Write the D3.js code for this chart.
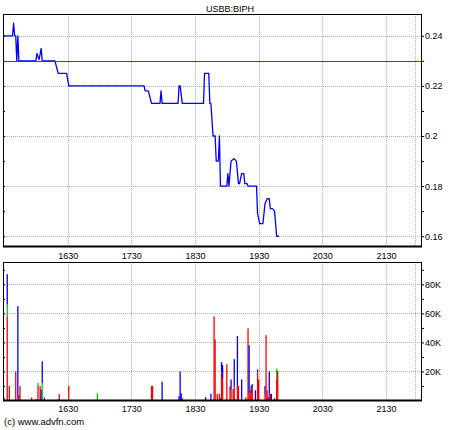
<!DOCTYPE html>
<html><head><meta charset="utf-8">
<script src="https://cdn.jsdelivr.net/npm/d3@7"></script>
<style>
html,body{margin:0;padding:0;background:#fff;}
svg{display:block;font-family:"Liberation Sans",Arial,sans-serif;}
</style></head><body>
<svg id="c" width="460" height="430"></svg>
<script>
// ---------- data ----------
const title = "USBB:BIPH";
const copyright = "(c) www.advfn.com";

const priceTimes = ["15:30","15:38","15:39","15:40","15:41","15:42","15:43","15:44","16:00","16:01","16:03","16:05","16:06",
  "16:18","16:21","16:29","16:31","17:42","17:43","17:46","17:49","17:57","17:58","17:59","18:14","18:15","18:16","18:18",
  "18:38","18:39","18:43","18:44","18:45","18:47","18:49","18:50","18:52","18:53","18:54","19:00","19:01","19:02","19:04",
  "19:07","19:09","19:11","19:12","19:14","19:16","19:17","19:19","19:20","19:28","19:29","19:31","19:34","19:36","19:38",
  "19:40","19:41","19:43","19:45","19:47","19:49"];
const priceValues = [0.24,0.24,0.245,0.24,0.24,0.23,0.24,0.23,0.23,0.233,0.2305,0.235,0.23,
  0.23,0.225,0.225,0.22,0.22,0.218,0.218,0.213,0.213,0.218,0.213,0.213,0.22,0.22,0.213,
  0.213,0.225,0.225,0.213,0.213,0.2,0.2,0.19,0.19,0.2,0.18,0.18,0.185,0.18,0.19,
  0.191,0.19,0.181,0.181,0.185,0.185,0.181,0.181,0.18,0.18,0.169,0.165,0.165,0.173,0.175,
  0.175,0.171,0.171,0.17,0.16,0.16];
const refPrice = 0.23;

const priceTickValues = [0.24,0.22,0.2,0.18,0.16];
const priceTickLabels = ["0.24","0.22","0.2","0.18","0.16"];
const priceMinorTicks = [0.25,0.23,0.21,0.19,0.17];

const timeTickLabels = ["1630","1730","1830","1930","2030","2130"];
const extraGridTime = "21:57";
const xDomainTimes = ["15:29","22:04"];

const volTimes = ["15:30","15:33","15:35","15:41","15:43","15:44","15:45","15:56","16:00","16:02","16:04","16:05","16:06",
  "16:08","16:21","16:22","16:31","16:58","17:49","17:50","17:59","18:15","18:16","18:17","18:18","18:40","18:45","18:48",
  "18:49","18:51","18:53","18:54","18:55","18:56","19:00","19:03","19:04","19:06","19:07","19:08","19:10","19:11","19:14",
  "19:18","19:20","19:21","19:22","19:23","19:24","19:27","19:29","19:30","19:31","19:36","19:37","19:38","19:39","19:40",
  "19:41","19:42","19:45","19:47","19:48"];
const volRed = [2000,58000,10000,20000,2500,1500,10000,2000,1000,10000,10000,0,0,
  0,0,4500,10000,0,10000,10000,0,0,0,0,1800,0,0,58000,
  42000,4600,4600,0,20000,14500,25000,9700,7000,8000,10000,0,10000,10000,0,
  2300,49700,5300,7000,5000,9000,0,19500,14500,500,4000,45000,7000,0,4000,
  4600,0,0,14500,20400];
const volGreen = [0,8000,0,0,0,0,0,0,0,2000,0,0,12000,
  0,1000,0,0,5000,0,0,0,0,0,0,0,0,0,0,
  0,0,0,0,0,0,0,0,0,0,0,0,0,0,0,
  0,0,0,0,0,0,0,0,0,0,0,0,0,0,0,
  0,0,0,7500,0];
const volBlue = [0,21000,0,0,62500,2000,0,0,0,0,0,7500,15000,
  2000,0,0,0,0,0,0,13000,3000,20000,5000,0,2300,4600,0,
  0,0,0,1500,6400,10000,0,0,7500,0,18500,700,34400,0,14500,
  0,0,32700,0,5000,2300,7000,1900,0,0,6000,0,0,2300,16000,
  0,4600,1500,0,0];

const volTickValues = [80000,60000,40000,20000];
const volTickLabels = ["80K","60K","40K","20K"];
const volMinorTicks = [90000,70000,50000,30000,10000];

// ---------- helpers ----------
const toMin = s => s.includes(":") ? (+s.split(":")[0])*60 + (+s.split(":")[1])
                                   : (+s.slice(0,2))*60 + (+s.slice(2));

// ---------- layout ----------
const L = 3, R = 422;
const T1 = 14, B1 = 247;
const T2 = 262, B2 = 401;
const FONT = 9;
const gridColor = "#a3b5b5";

const svg = d3.select("#c");

const x = d3.scaleLinear().domain(xDomainTimes.map(toMin)).range([L, R]);
const yP = d3.scaleLinear().domain([0.1557, 0.2487]).range([B1, T1]);
const yV = d3.scaleLinear().domain([0, 95400]).range([400.5, T2]);

const timeTicks = timeTickLabels.map(toMin);
const gridTimes = timeTicks.concat([toMin(extraGridTime)]);

// title
svg.append("text").attr("x", 230).attr("y", 11.5).attr("text-anchor", "middle")
  .attr("font-size", FONT).attr("fill", "#000").text(title);

function panel(top, bottom, yScale, hVals) {
  const g = svg.append("g");
  g.append("rect").attr("x", L).attr("y", top).attr("width", R - L).attr("height", bottom - top)
    .attr("fill", "#fff");
  // vertical grid
  g.selectAll("line.vg").data(gridTimes).join("line")
    .attr("x1", d => Math.round(x(d)) + 0.5).attr("x2", d => Math.round(x(d)) + 0.5)
    .attr("y1", top).attr("y2", bottom)
    .attr("stroke", gridColor).attr("stroke-width", 1).attr("stroke-dasharray", "1,1");
  // horizontal grid
  g.selectAll("line.hg").data(hVals).join("line")
    .attr("x1", L).attr("x2", R)
    .attr("y1", d => Math.round(yScale(d)) + 0.5).attr("y2", d => Math.round(yScale(d)) + 0.5)
    .attr("stroke", gridColor).attr("stroke-width", 1).attr("stroke-dasharray", "1,1");
  return g;
}

// ---------- price panel ----------
const gp = panel(T1, B1, yP, priceTickValues);

gp.append("line").attr("x1", L).attr("x2", R)
  .attr("y1", Math.round(yP(refPrice)) + 0.5).attr("y2", Math.round(yP(refPrice)) + 0.5)
  .attr("stroke", "#ff0000").attr("stroke-width", 1);

const pts = priceTimes.map((t, i) => [toMin(t), priceValues[i]]);
gp.append("path").datum(pts)
  .attr("fill", "none").attr("stroke", "#0000ff").attr("stroke-width", 1.3)
  .attr("stroke-linejoin", "round")
  .attr("d", d3.line().x(d => x(d[0])).y(d => yP(d[1])));

// frame
svg.append("rect").attr("x", L + 0.5).attr("y", T1 + 0.5).attr("width", R - L - 1).attr("height", B1 - T1 - 1)
  .attr("fill", "none").attr("stroke", "#000").attr("stroke-width", 1);
svg.append("line").attr("x1", L).attr("x2", R).attr("y1", B1 - 0.5).attr("y2", B1 - 0.5)
  .attr("stroke", "#000").attr("stroke-width", 2);

// right axis
const axP = svg.append("g").attr("transform", `translate(${R},0)`)
  .call(d3.axisRight(yP).tickValues(priceTickValues).tickSize(2).tickPadding(1)
    .tickFormat((d, i) => priceTickLabels[i]));
axP.select(".domain").remove();
axP.selectAll("text").attr("font-size", FONT).attr("font-family", null).attr("fill", "#000");
const axPm = svg.append("g").attr("transform", `translate(${R},0)`)
  .call(d3.axisRight(yP).tickValues(priceMinorTicks.filter(v => yP(v) > T1)).tickSize(2).tickFormat(""));
axPm.select(".domain").remove();
// left inner ticks
const axPl = svg.append("g").attr("transform", `translate(${L},0)`)
  .call(d3.axisRight(yP).tickValues(priceTickValues.concat(priceMinorTicks).filter(v => yP(v) > T1)).tickSize(2).tickFormat(""));
axPl.select(".domain").remove();

// bottom time labels (top panel)
const axT1 = svg.append("g").attr("transform", `translate(0,${B1})`)
  .call(d3.axisBottom(x).tickValues(timeTicks).tickSize(0).tickPadding(6)
    .tickFormat((d, i) => timeTickLabels[i]));
axT1.select(".domain").remove();
axT1.selectAll("text").attr("font-size", FONT).attr("font-family", null).attr("fill", "#000");

// ---------- volume panel ----------
const gv = panel(T2, B2, yV, volTickValues);

const colors = ["#ff0000", "#00c800", "#0000ff"];
const series = [volRed, volGreen, volBlue];
const bw = 1.3;
volTimes.forEach((t, i) => {
  let base = 0;
  series.forEach((s, k) => {
    const v = s[i];
    if (v > 0) {
      gv.append("rect")
        .attr("x", x(toMin(t)) - bw / 2).attr("width", bw)
        .attr("y", yV(base + v)).attr("height", yV(base) - yV(base + v))
        .attr("fill", colors[k]);
      base += v;
    }
  });
});

svg.append("rect").attr("x", L + 0.5).attr("y", T2 + 0.5).attr("width", R - L - 1).attr("height", B2 - T2 - 1)
  .attr("fill", "none").attr("stroke", "#000").attr("stroke-width", 1);
svg.append("line").attr("x1", L).attr("x2", R).attr("y1", B2 - 0.5).attr("y2", B2 - 0.5)
  .attr("stroke", "#000").attr("stroke-width", 2);

const axV = svg.append("g").attr("transform", `translate(${R},0)`)
  .call(d3.axisRight(yV).tickValues(volTickValues).tickSize(2).tickPadding(1)
    .tickFormat((d, i) => volTickLabels[i]));
axV.select(".domain").remove();
axV.selectAll("text").attr("font-size", FONT).attr("font-family", null).attr("fill", "#000");
const axVm = svg.append("g").attr("transform", `translate(${R},0)`)
  .call(d3.axisRight(yV).tickValues(volMinorTicks).tickSize(2).tickFormat(""));
axVm.select(".domain").remove();
const axVl = svg.append("g").attr("transform", `translate(${L},0)`)
  .call(d3.axisRight(yV).tickValues(volTickValues.concat(volMinorTicks)).tickSize(2).tickFormat(""));
axVl.select(".domain").remove();

const axT2 = svg.append("g").attr("transform", `translate(0,${B2})`)
  .call(d3.axisBottom(x).tickValues(timeTicks).tickSize(0).tickPadding(5)
    .tickFormat((d, i) => timeTickLabels[i]));
axT2.select(".domain").remove();
axT2.selectAll("text").attr("font-size", FONT).attr("font-family", null).attr("fill", "#000");

svg.selectAll(".tick line").attr("stroke", "#000");

svg.append("text").attr("x", 4).attr("y", 425).attr("font-size", 9.5).attr("fill", "#000").text(copyright);
</script>
</body></html>
